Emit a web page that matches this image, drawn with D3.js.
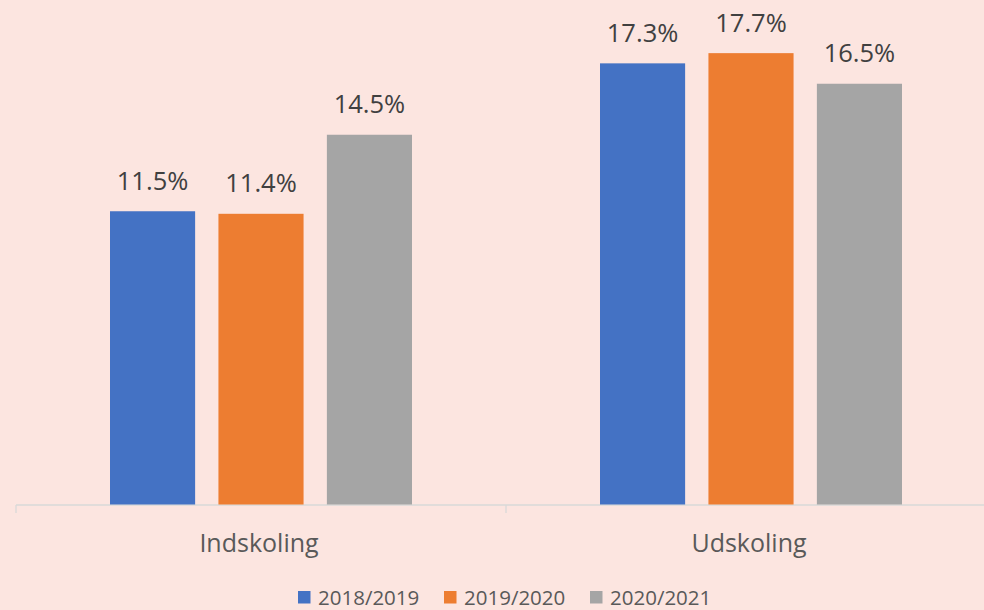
<!DOCTYPE html>
<html>
<head>
<meta charset="utf-8">
<script src="https://cdn.jsdelivr.net/npm/d3@7"></script>
<style>
  html, body { margin: 0; padding: 0; background: #fce5e0; }
  svg { display: block; }
</style>
</head>
<body>
<div id="chart"></div>
<script>
var categories = ["Indskoling", "Udskoling"];
var seriesNames = ["2018/2019", "2019/2020", "2020/2021"];
var values2018 = [11.5, 17.3];
var values2019 = [11.4, 17.7];
var values2020 = [14.5, 16.5];
var colors = ["#4472c4", "#ed7d31", "#a5a5a5"];

var width = 984, height = 610;
var font = "'Open Sans', sans-serif";

var svg = d3.select("#chart").append("svg")
    .attr("width", width)
    .attr("height", height)
    .attr("font-family", font);

svg.append("rect")
    .attr("width", width)
    .attr("height", height)
    .attr("fill", "#fce5e0");

var allSeries = [values2018, values2019, values2020];

// table of bars built from the arrays
var data = [];
categories.forEach(function(c, i) {
  seriesNames.forEach(function(s, j) {
    data.push({cat: c, series: s, value: allSeries[j][i], idx: j});
  });
});

var x = d3.scaleBand()
    .domain(categories)
    .range([16, 996])
    .paddingInner(0)
    .paddingOuter(0);

var x1 = d3.scaleBand()
    .domain(seriesNames)
    .range([94, x.bandwidth() - 94])
    .paddingInner(0.215);

var y = d3.scaleLinear()
    .domain([0, 20])
    .range([504.5, -5.5]);

// axis line + ticks
var axis = svg.append("g");
axis.append("line")
    .attr("x1", 16).attr("x2", width)
    .attr("y1", 505).attr("y2", 505)
    .attr("stroke", "#d9d9d9").attr("stroke-width", 1.3);
var edges = [16].concat(categories.map(function(c) { return x(c) + x.bandwidth(); }));
axis.selectAll(".tick")
    .data(edges)
    .enter().append("line")
    .attr("x1", function(d) { return d; })
    .attr("x2", function(d) { return d; })
    .attr("y1", 505).attr("y2", 513)
    .attr("stroke", "#d9d9d9").attr("stroke-width", 1.3);

var bars = svg.append("g");
bars.selectAll("rect")
    .data(data)
    .enter().append("rect")
    .attr("x", function(d) { return x(d.cat) + x1(d.series); })
    .attr("width", x1.bandwidth())
    .attr("y", function(d) { return y(d.value); })
    .attr("height", function(d) { return y(0) - y(d.value); })
    .attr("fill", function(d) { return colors[d.idx]; });

bars.selectAll("text")
    .data(data)
    .enter().append("text")
    .attr("x", function(d) { return x(d.cat) + x1(d.series) + x1.bandwidth() / 2; })
    .attr("y", function(d) { return y(d.value) - 21.5; })
    .attr("text-anchor", "middle")
    .attr("font-size", 25.5)
    .attr("fill", "#404040")
    .text(function(d) { return d.value.toFixed(1) + "%"; });

// category labels
svg.append("g").selectAll("text")
    .data(categories)
    .enter().append("text")
    .attr("x", function(d) { return x(d) + x.bandwidth() / 2 - 2; })
    .attr("y", 552)
    .attr("text-anchor", "middle")
    .attr("font-size", 25)
    .attr("fill", "#595959")
    .text(function(d) { return d; });

// legend
var legend = svg.append("g").selectAll("g")
    .data(seriesNames)
    .enter().append("g")
    .attr("transform", function(d, i) { return "translate(" + (298 + i * 146) + ",0)"; });

legend.append("rect")
    .attr("x", 0).attr("y", 591)
    .attr("width", 12.5).attr("height", 12.5)
    .attr("fill", function(d, i) { return colors[i]; });

legend.append("text")
    .attr("x", 20)
    .attr("y", 605)
    .attr("font-size", 20.5)
    .attr("fill", "#595959")
    .text(function(d) { return d; });
</script>
</body>
</html>
